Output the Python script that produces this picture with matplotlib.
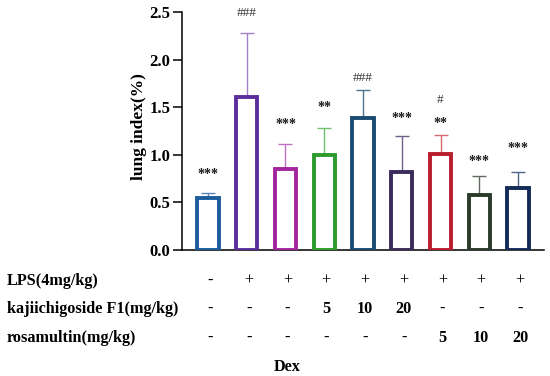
import matplotlib.pyplot as plt
import numpy as np

plt.rcParams['font.family'] = ['Liberation Serif', 'DejaVu Serif']

# bar data
means = [0.55, 1.61, 0.85, 1.00, 1.39, 0.82, 1.01, 0.58, 0.65]
errs = [0.045, 0.67, 0.26, 0.28, 0.29, 0.38, 0.20, 0.20, 0.17]
colors = ['#1b5c9c', '#5c2d9c', '#a3259d', '#2c9b2c', '#1c4b72',
          '#3b2b5c', '#b91e2f', '#2b3b2b', '#132b56']
err_colors = ['#5a85b5', '#a07fc8', '#c070c0', '#70c070', '#4f7490',
              '#706088', '#d86870', '#606a60', '#4f6488']

# significance marks (text, y position)
stars = ['***', '', '***', '**', '', '***', '**', '***', '***']
star_y = [0.79, 0, 1.32, 1.50, 0, 1.38, 1.33, 0.93, 1.07]
hashes = ['', '###', '', '', '###', '', '#', '', '']
hash_y = [0, 2.49, 0, 0, 1.81, 0, 1.58, 0, 0]

# treatment table below the axis
row_labels = ['LPS(4mg/kg)', 'kajiichigoside F1(mg/kg)', 'rosamultin(mg/kg)']
lps = ['-', '+', '+', '+', '+', '+', '+', '+', '+']
kaji = ['-', '-', '-', '5', '10', '20', '-', '-', '-']
rosa = ['-', '-', '-', '-', '-', '-', '5', '10', '20']
extra = ['', '', 'Dex', '', '', '', '', '', '']

fig = plt.figure(figsize=(5.5, 3.76), dpi=100)
ax = fig.add_axes([182/550, 1 - 250/376, 362/550, 238/376])

x = np.arange(len(means))
ax.bar(x, means, width=0.55, color='white', edgecolor=colors, linewidth=2.8, zorder=3)
for i in range(len(means)):
    ax.errorbar(x[i], means[i], yerr=[[0], [errs[i]]], fmt='none',
                ecolor=err_colors[i], elinewidth=1.0, capsize=4.8, capthick=1.0, zorder=2)
    if stars[i]:
        ax.text(x[i], star_y[i], stars[i], ha='center', va='center',
                fontsize=10, fontweight='bold', color='#1a1a1a')
    if hashes[i]:
        ax.text(x[i], hash_y[i], hashes[i], ha='center', va='center',
                fontsize=9.5, color='#333333')

ax.set_xlim(-0.67, 8.67)
ax.set_ylim(0, 2.5)
ax.set_yticks([0, 0.5, 1.0, 1.5, 2.0, 2.5])
ax.set_yticklabels(['0.0', '0.5', '1.0', '1.5', '2.0', '2.5'], fontweight='bold', fontsize=12)
ax.set_xticks([])
ax.spines['top'].set_visible(False)
ax.spines['right'].set_visible(False)
ax.spines['left'].set_linewidth(1.1)
ax.spines['bottom'].set_linewidth(1.1)
ax.tick_params(axis='y', length=6.5, width=1.1, pad=2)
ax.set_ylabel('lung index(%)', fontweight='bold', fontsize=12.5)
ax.yaxis.set_label_coords(-0.097, 0.519)

# table rows
rows = [lps, kaji, rosa, extra]
row_y = [281, 309, 338, 367]
for r, vals in enumerate(rows):
    yf = 1 - row_y[r] / 376
    if r < 3:
        fig.text(7/550, yf, row_labels[r], ha='left', va='center',
                 fontsize=11.7, fontweight='bold')
    for i, v in enumerate(vals):
        if v:
            xd = ax.transData.transform((x[i], 0))[0]
            fig.text(xd / fig.bbox.width + 2/550, yf, v, ha='center', va='center',
                     fontsize=11.7, fontweight='normal' if v == '+' else 'bold')

plt.savefig('out.png', dpi=100)
